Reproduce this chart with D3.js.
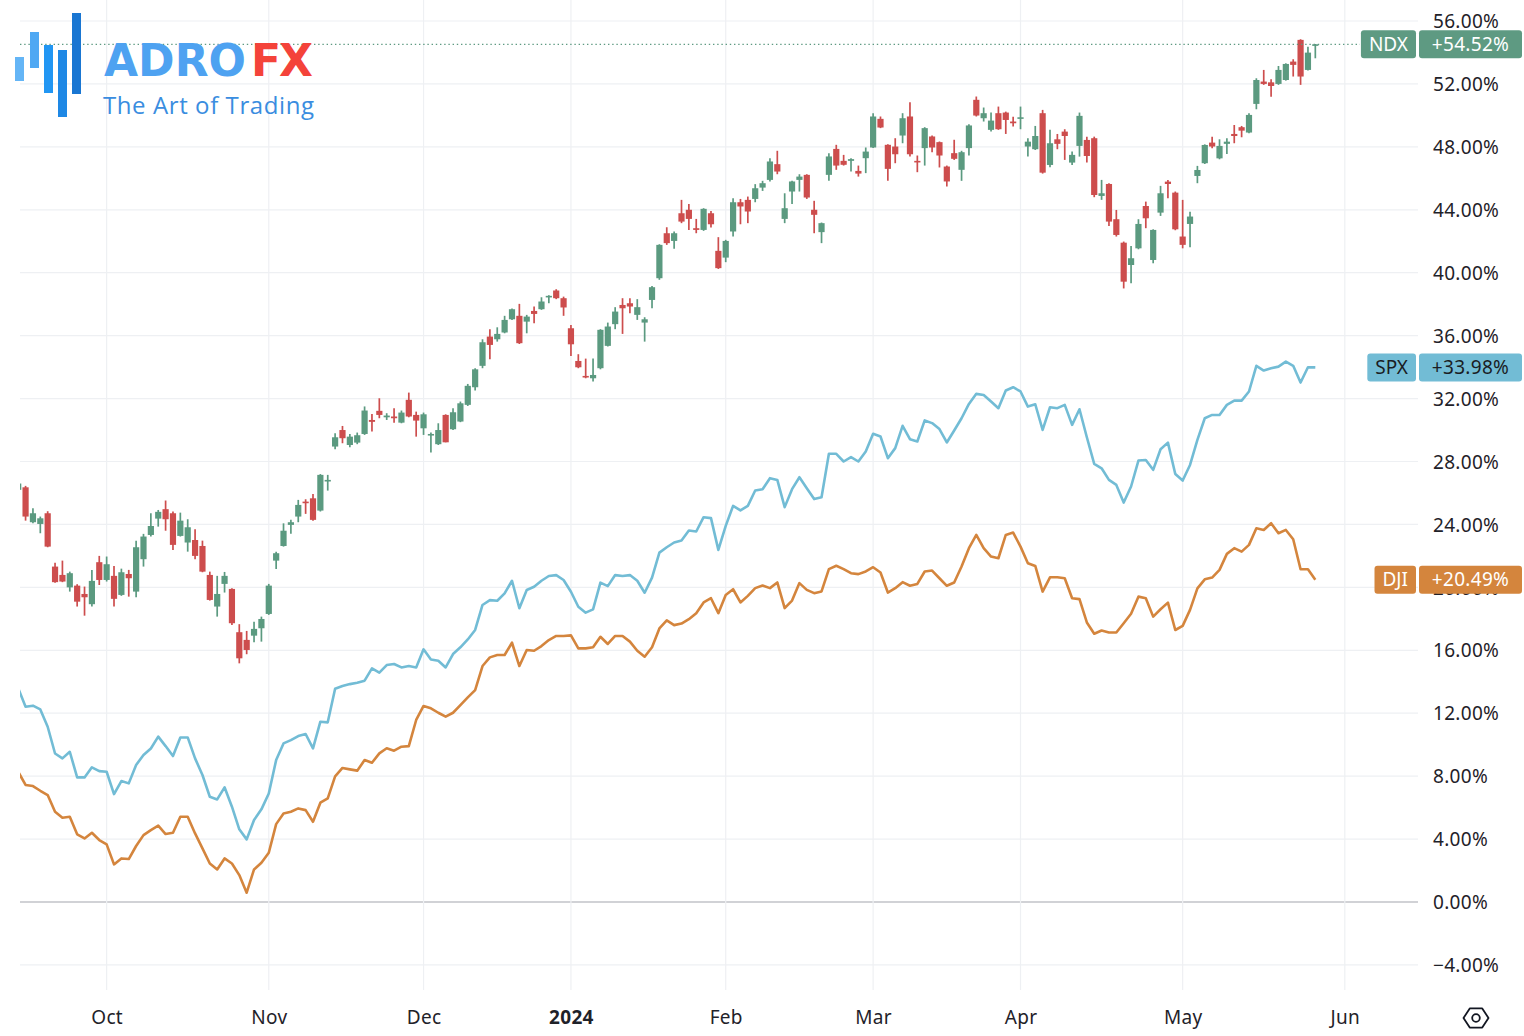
<!DOCTYPE html>
<html><head><meta charset="utf-8">
<script src="https://cdn.jsdelivr.net/npm/d3@7"></script>
<style>
html,body{margin:0;padding:0;background:#fff;}
svg{display:block;font-family:"Noto Sans","Open Sans",sans-serif;}
</style></head><body>
<svg id="chart" width="1524" height="1036"></svg>
<script>
// ---- time axis (bar index = trading day, first bar 2023-09-14) ----
const monthLabels   = ["Oct","Nov","Dec","2024","Feb","Mar","Apr","May","Jun"];
const monthStartIdx = [12,34,55,75,96,116,136,158,180];
const yTicks = [-4,0,4,8,12,16,20,24,28,32,36,40,44,48,52,56];

// ---- NDX candles (% change) ----
const ndxOpen = [
26.2,26.36,24.14,24.03,24.71,21.32,20.79,20.00,20.11,19.58,
18.93,21.60,20.47,20.73,19.52,20.85,19.73,21.79,23.33,24.37,
24.97,24.71,23.27,22.85,23.01,22.63,20.79,18.78,20.22,19.90,
17.15,16.66,16.93,17.40,18.31,21.70,22.63,23.97,24.50,25.45,
25.66,24.88,26.77,28.95,30.00,29.05,29.20,29.75,30.64,31.22,
30.81,30.86,30.47,31.92,30.96,30.11,29.69,29.10,30.96,30.05,
30.54,31.60,32.72,34.08,35.94,35.77,36.20,37.04,37.26,36.89,
37.57,37.68,38.44,38.87,38.38,36.47,34.39,33.44,33.29,33.93,
35.35,36.73,37.95,38.06,37.32,36.83,38.27,39.65,42.51,42.02,
43.78,44.00,42.83,42.72,43.78,41.39,40.96,42.62,44.48,44.63,
44.69,45.41,45.90,46.90,43.42,45.16,45.90,46.22,44.00,42.58,
46.22,47.87,47.11,47.11,46.47,47.28,47.96,49.78,48.13,48.02,
48.72,49.93,47.11,47.92,48.66,48.30,46.75,47.60,46.54,47.92,
50.99,49.82,49.08,50.14,50.18,49.61,49.82,48.02,47.85,50.14,
46.85,48.48,48.97,47.00,48.06,48.44,48.55,44.88,45.64,43.40,
41.91,40.49,41.55,44.24,40.81,43.82,45.79,45.09,42.30,43.10,
46.15,46.96,48.27,47.27,48.19,48.82,49.25,48.91,50.73,52.15,
52.10,52.00,52.25,53.42,54.80,52.89,54.42];
const ndxHigh = [
26.9,26.45,25.03,24.50,24.84,21.57,21.70,21.00,20.20,20.05,
21.11,22.00,21.96,21.36,21.19,21.11,22.97,23.40,24.71,24.92,
25.52,24.82,24.75,24.33,23.69,22.97,21.00,20.73,20.98,19.94,
17.66,17.23,17.82,18.14,20.22,22.27,24.07,24.29,25.56,25.60,
25.94,27.20,27.15,29.80,30.26,29.75,29.84,31.50,31.02,32.02,
31.07,31.39,31.24,32.38,31.17,31.11,29.84,30.43,31.00,31.39,
31.81,32.93,33.93,35.77,36.41,36.53,37.26,37.72,38.02,37.32,
37.85,38.44,38.57,38.95,38.48,36.68,34.82,34.54,34.54,36.41,
36.83,37.81,38.38,38.38,38.32,37.17,39.16,41.81,42.89,42.62,
44.63,44.36,43.42,44.10,43.93,42.26,42.09,44.74,44.69,44.84,
45.63,45.84,47.28,47.75,45.05,45.84,46.26,46.26,44.57,43.19,
47.60,48.13,47.49,47.28,46.81,47.96,50.14,49.93,48.17,48.55,
50.14,50.84,47.45,49.25,48.72,48.34,46.81,48.45,47.75,49.44,
51.20,50.50,50.18,50.56,50.24,49.92,50.56,48.55,49.33,50.35,
49.08,48.82,49.12,47.70,50.18,48.65,48.65,45.90,45.69,43.99,
41.98,41.70,43.40,44.52,42.76,45.52,45.90,45.16,44.63,43.88,
46.79,48.16,48.65,48.48,48.55,49.39,49.33,50.14,52.36,52.89,
52.30,53.14,53.31,53.57,54.84,54.37,54.54];
const ndxLow = [
26.0,24.24,24.07,23.44,22.55,20.30,20.33,19.73,18.78,18.20,
18.78,20.15,20.37,18.78,19.46,19.41,19.37,21.32,23.23,23.86,
23.60,22.38,23.23,22.27,21.79,20.96,19.16,18.14,19.67,17.61,
15.17,15.75,16.51,16.55,18.25,21.17,22.59,23.40,24.14,24.67,
24.24,24.82,26.15,28.78,29.16,28.90,29.10,29.69,29.90,30.75,
30.64,30.47,30.43,30.81,29.58,29.69,28.57,29.05,29.22,30.00,
30.50,31.53,32.51,33.93,34.50,35.62,36.15,37.00,35.47,36.15,
36.79,37.64,38.06,38.32,37.26,34.71,33.93,33.29,33.08,33.86,
35.31,36.41,36.11,37.43,37.00,35.62,37.74,39.55,41.77,41.52,
43.15,42.72,42.51,42.66,42.87,40.24,40.67,42.30,43.08,43.15,
44.48,45.20,45.80,46.26,43.15,44.36,45.16,44.69,42.51,41.88,
45.84,46.54,46.81,46.43,46.11,46.33,47.92,49.19,45.84,46.96,
48.23,47.39,46.39,46.81,47.66,46.69,45.48,47.17,45.84,47.45,
49.93,49.61,48.97,49.08,48.82,49.29,49.12,47.38,47.80,46.30,
46.70,47.85,47.17,46.85,47.38,47.00,44.80,44.63,42.97,42.30,
39.00,39.33,41.49,42.83,40.60,43.61,44.73,42.70,41.55,41.62,
45.69,46.91,47.91,47.21,47.55,48.23,48.61,48.86,50.39,51.94,
51.19,51.94,52.21,52.47,51.94,52.85,53.63];
const ndxClose = [
26.6,24.50,24.71,24.39,22.59,20.33,20.37,20.90,19.09,19.37,
20.41,20.47,21.47,19.27,20.96,20.58,22.55,23.23,23.90,24.80,
24.33,22.70,24.24,23.82,22.00,21.00,19.20,19.58,20.73,17.72,
15.49,16.02,17.36,17.99,20.11,22.17,23.60,24.14,25.24,25.35,
24.29,27.15,26.83,29.54,29.48,29.58,29.67,31.24,30.52,30.96,
30.92,30.75,31.11,30.86,30.60,31.00,29.75,30.00,29.22,31.13,
31.70,32.81,33.86,35.58,35.41,36.11,37.00,37.68,35.52,37.21,
37.38,38.17,38.53,38.38,37.79,35.45,33.99,33.36,33.50,36.37,
36.58,37.53,37.74,37.85,37.81,37.04,39.08,41.77,41.88,42.51,
43.25,43.42,42.72,44.06,43.08,40.29,42.02,44.48,44.21,43.89,
45.37,45.69,47.07,46.43,44.10,45.80,46.11,44.78,43.68,43.15,
47.39,46.81,46.86,47.22,46.30,47.70,49.93,49.23,46.60,47.53,
49.82,47.53,47.03,49.19,47.96,47.45,45.80,47.24,47.66,49.36,
49.99,50.14,49.67,49.12,49.71,49.50,49.88,48.33,48.69,46.36,
48.23,48.19,48.69,47.49,49.97,47.42,44.94,45.05,43.25,42.40,
39.43,40.92,43.10,43.46,42.72,45.05,45.64,42.76,41.77,43.57,
46.53,48.12,48.02,48.06,48.33,48.69,49.03,50.03,52.25,52.00,
51.87,52.89,53.27,53.21,52.47,53.99,54.52];

// ---- SPX and DJI closes (% change) ----
const spxClose = [
13.58,12.41,12.48,12.24,11.14,9.44,9.13,9.55,7.92,7.92,
8.56,8.32,8.28,6.86,7.69,7.54,8.71,9.34,9.76,10.51,
9.91,9.28,10.46,10.46,9.13,8.07,6.69,6.52,7.29,6.06,
4.62,3.98,5.21,5.89,6.90,9.02,10.08,10.29,10.55,10.68,
9.76,11.46,11.42,13.55,13.73,13.85,13.94,14.07,14.85,14.58,
15.06,15.13,14.91,15.00,14.91,16.06,15.42,15.34,14.91,15.76,
16.19,16.69,17.29,18.88,19.19,19.15,19.62,20.42,18.67,19.83,
20.04,20.42,20.72,20.78,20.47,19.72,18.77,18.39,18.60,20.30,
20.08,20.78,20.72,20.78,20.42,19.66,20.62,22.21,22.55,22.85,
22.98,23.61,23.55,24.46,24.40,22.38,23.91,25.18,24.89,25.18,
26.16,26.24,26.94,26.83,25.10,26.24,27.00,26.30,25.61,25.73,
28.49,28.49,28.00,28.28,28.00,28.64,29.76,29.59,28.21,28.85,
30.27,29.42,29.27,30.61,30.44,30.06,29.21,29.97,30.75,31.66,
32.30,32.23,31.81,31.39,32.51,32.72,32.45,31.49,31.64,30.01,
31.45,31.39,31.60,30.33,31.32,29.54,27.85,27.57,26.83,26.51,
25.39,26.41,28.06,28.10,27.47,28.78,29.20,27.21,26.79,27.78,
29.37,30.75,30.96,30.96,31.60,31.87,31.87,32.45,34.08,33.78,
33.93,34.03,34.35,34.08,33.02,33.99,33.98];
const djiClose = [
8.28,7.44,7.37,7.07,6.80,5.74,5.36,5.42,4.30,4.04,
4.40,3.94,3.66,2.39,2.77,2.73,3.56,4.25,4.57,4.85,
4.32,4.40,5.42,5.42,4.36,3.41,2.45,2.07,2.77,2.45,
1.71,0.59,2.07,2.49,3.13,4.95,5.63,5.74,5.95,5.84,
5.10,6.31,6.59,7.98,8.52,8.43,8.35,9.02,8.85,9.45,
9.77,9.62,9.87,9.91,11.57,12.46,12.31,12.03,11.78,12.03,
12.52,13.01,13.47,15.00,15.55,15.70,15.70,16.48,15.00,16.02,
15.97,16.27,16.65,16.91,16.91,16.95,16.12,16.12,16.19,16.86,
16.40,16.91,16.91,16.55,15.97,15.59,16.19,17.39,17.90,17.60,
17.70,17.98,18.36,19.04,19.31,18.36,19.52,19.88,19.04,19.46,
19.95,20.12,19.95,20.31,18.68,19.16,20.27,19.84,19.63,19.74,
21.16,21.37,21.16,20.90,20.84,21.01,21.28,20.94,19.67,19.95,
20.33,20.10,20.22,21.01,21.07,20.58,20.10,20.31,21.33,22.49,
23.34,22.49,21.96,21.85,23.33,23.48,22.59,21.53,21.36,19.73,
20.64,20.64,20.58,19.31,19.25,17.77,17.05,17.26,17.13,17.13,
17.72,18.32,19.41,19.31,18.14,18.61,19.03,17.29,17.55,18.57,
19.94,20.51,20.62,21.11,22.13,22.49,22.27,22.70,23.76,23.65,
24.08,23.44,23.65,23.06,21.15,21.15,20.49];

const seriesNames = ["NDX","SPX","DJI"];

// ---- styling ----
const UP = "#5b9a80", DOWN = "#cd4d4d";
const SPX_COL = "#72bcd5", DJI_COL = "#d4853d", NDX_COL = "#5e9a82";

const svg = d3.select("#chart");
const W = 1524, H = 1036;
const plotL = 20, plotR = 1418, plotB = 990;

svg.append("rect").attr("width", W).attr("height", H).attr("fill", "#fff");

const x = d3.scaleLinear().domain([0, 180]).range([18.2, 1344.8]);
const y = d3.scaleLinear().domain([0, 56]).range([902, 21]);

svg.append("defs").append("clipPath").attr("id", "plotclip")
  .append("rect").attr("x", plotL).attr("y", 0).attr("width", plotR - plotL).attr("height", plotB);

// grid
const grid = svg.append("g");
grid.selectAll("line.h").data(yTicks).join("line")
  .attr("x1", plotL).attr("x2", plotR)
  .attr("y1", d => y(d)).attr("y2", d => y(d))
  .attr("stroke", d => d === 0 ? "#a3a6ad" : "#eef0f3")
  .attr("stroke-width", 1.2);
grid.selectAll("line.v").data(monthStartIdx).join("line")
  .attr("x1", d => x(d)).attr("x2", d => x(d))
  .attr("y1", 0).attr("y2", plotB)
  .attr("stroke", "#eef0f3").attr("stroke-width", 1.2);

// y axis labels
const yAxis = d3.axisRight(y).tickValues(yTicks).tickSize(0).tickPadding(0)
  .tickFormat(d => d3.format(".2f")(d) + "%");
const gy = svg.append("g").attr("transform", `translate(1433,0)`).call(yAxis);
gy.select(".domain").remove();
gy.selectAll("text").attr("fill", "#1f2229").attr("font-size", 19)
  .attr("letter-spacing", 0.3).attr("dy", "0.35em")
  .attr("font-family", '"Noto Sans","Open Sans",sans-serif');

// x axis labels
const xAxis = d3.axisBottom(x).tickValues(monthStartIdx).tickSize(0).tickPadding(0)
  .tickFormat((d, i) => monthLabels[i]);
const gx = svg.append("g").attr("transform", `translate(0,1017)`).call(xAxis);
gx.select(".domain").remove();
gx.selectAll("text").attr("fill", "#1f2229").attr("font-size", 19)
  .attr("dy", "0.35em").attr("letter-spacing", 0.3)
  .attr("font-family", '"Noto Sans","Open Sans",sans-serif')
  .attr("font-weight", (d, i) => monthLabels[i] === "2024" ? 700 : 400);

// plot content
const plot = svg.append("g").attr("clip-path", "url(#plotclip)");

const line = d3.line().x((d, i) => x(i)).y(d => y(d)).curve(d3.curveLinear);
plot.append("path").datum(djiClose).attr("d", line)
  .attr("fill", "none").attr("stroke", DJI_COL).attr("stroke-width", 2.6)
  .attr("stroke-linejoin", "round");
plot.append("path").datum(spxClose).attr("d", line)
  .attr("fill", "none").attr("stroke", SPX_COL).attr("stroke-width", 2.6)
  .attr("stroke-linejoin", "round");

// candles
const candles = ndxOpen.map((o, i) => ({i, o, h: ndxHigh[i], l: ndxLow[i], c: ndxClose[i]}));
const cg = plot.append("g");
cg.selectAll("line.wick").data(candles).join("line")
  .attr("x1", d => x(d.i)).attr("x2", d => x(d.i))
  .attr("y1", d => y(d.h)).attr("y2", d => y(d.l))
  .attr("stroke", d => d.c >= d.o ? UP : DOWN).attr("stroke-width", 1.7);
const bw = 6.2;
cg.selectAll("rect.body").data(candles).join("rect")
  .attr("x", d => x(d.i) - bw / 2).attr("width", bw)
  .attr("y", d => y(Math.max(d.o, d.c)))
  .attr("height", d => Math.max(1.6, Math.abs(y(d.o) - y(d.c))))
  .attr("fill", d => d.c >= d.o ? UP : DOWN);

// dotted last-value line for NDX
const lastNdx = ndxClose[ndxClose.length - 1];
svg.append("line").attr("x1", plotL).attr("x2", 1360)
  .attr("y1", y(lastNdx)).attr("y2", y(lastNdx))
  .attr("stroke", NDX_COL).attr("stroke-width", 1.3).attr("stroke-dasharray", "1.4,2.8");

// right-side labels
const lastVals = [lastNdx, spxClose[spxClose.length - 1], djiClose[djiClose.length - 1]];
const labCols = [NDX_COL, SPX_COL, DJI_COL];
const labText = ["#ffffff", "#1a1d24", "#ffffff"];
seriesNames.forEach((name, k) => {
  const cy = y(lastVals[k]);
  const g = svg.append("g");
  const t = g.append("text").text(name).attr("font-size", 19)
    .attr("font-family", '"Noto Sans","Open Sans",sans-serif');
  const tw = t.node().getComputedTextLength();
  const nbW = tw + 16;
  g.insert("rect", "text").attr("x", 1416 - nbW).attr("y", cy - 14).attr("width", nbW).attr("height", 28)
    .attr("rx", 3).attr("fill", labCols[k]);
  t.attr("x", 1416 - nbW / 2).attr("y", cy).attr("dy", "0.35em").attr("text-anchor", "middle")
    .attr("fill", labText[k]);
  g.append("rect").attr("x", 1419).attr("y", cy - 14).attr("width", 103).attr("height", 28)
    .attr("rx", 3).attr("fill", labCols[k]);
  g.append("text").text(d3.format("+.2f")(lastVals[k]) + "%")
    .attr("x", 1470.5).attr("y", cy).attr("dy", "0.35em").attr("text-anchor", "middle")
    .attr("font-size", 19).attr("letter-spacing", 0.3).attr("fill", labText[k])
    .attr("font-family", '"Noto Sans","Open Sans",sans-serif');
});

// settings hexagon icon
const hx = 1476, hy = 1018, hr = 12.5;
const hexPts = d3.range(6).map(j => [hx + hr * Math.cos(Math.PI / 3 * j), hy + hr * 0.88 * Math.sin(Math.PI / 3 * j)]);
svg.append("polygon").attr("points", hexPts.map(p => p.join(",")).join(" "))
  .attr("fill", "none").attr("stroke", "#131722").attr("stroke-width", 1.8).attr("stroke-linejoin", "round");
svg.append("circle").attr("cx", hx).attr("cy", hy).attr("r", 3.8)
  .attr("fill", "none").attr("stroke", "#131722").attr("stroke-width", 1.8);

// logo
const logo = svg.append("g");
const logoBars = [
  {x: 15, y0: 57, y1: 81, c: "#64b5f6"},
  {x: 30, y0: 32, y1: 68, c: "#4fa8f3"},
  {x: 44, y0: 45, y1: 93, c: "#2196f3"},
  {x: 58, y0: 50, y1: 117, c: "#1e88e5"},
  {x: 72, y0: 13, y1: 94, c: "#1976d2"}
];
logo.selectAll("rect").data(logoBars).join("rect")
  .attr("x", d => d.x).attr("y", d => d.y0).attr("width", 9).attr("height", d => d.y1 - d.y0)
  .attr("fill", d => d.c);
logo.append("text").text("ADRO").attr("x", 104).attr("y", 76)
  .attr("font-size", 44).attr("font-weight", 700).attr("fill", "#4ea2f1")
  .attr("font-family", '"DejaVu Sans","Open Sans",sans-serif')
  .attr("textLength", 142).attr("lengthAdjust", "spacing");
logo.append("text").text("FX").attr("x", 251).attr("y", 76)
  .attr("font-size", 44).attr("font-weight", 700).attr("fill", "#f4433a")
  .attr("font-family", '"DejaVu Sans","Open Sans",sans-serif')
  .attr("textLength", 62).attr("lengthAdjust", "spacing");
logo.append("text").text("The Art of Trading").attr("x", 103).attr("y", 114)
  .attr("font-size", 24).attr("font-weight", 400).attr("fill", "#3a8de0")
  .attr("font-family", '"Open Sans","Noto Sans",sans-serif')
  .attr("textLength", 211).attr("lengthAdjust", "spacing");
</script>
</body></html>
